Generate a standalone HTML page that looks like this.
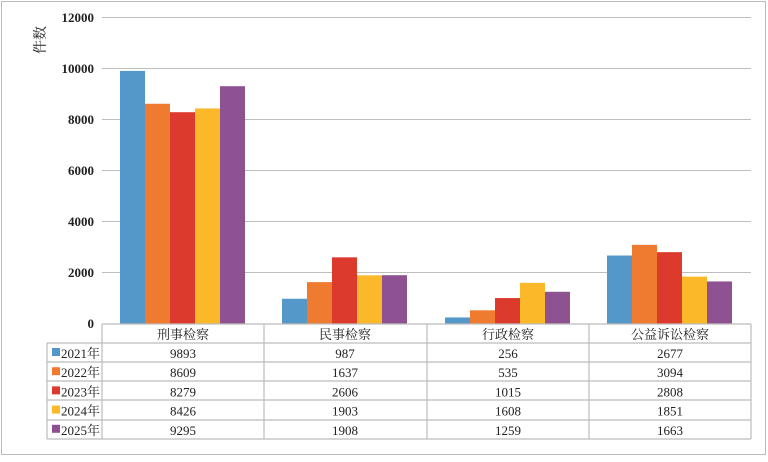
<!DOCTYPE html>
<html><head><meta charset="utf-8"><style>
body{margin:0;background:#fff}
svg text{font-family:"Liberation Serif","Noto Serif CJK SC",serif;fill:#222}
</style></head><body>
<svg width="768" height="457" xmlns="http://www.w3.org/2000/svg">
<rect x="1.5" y="1.5" width="764" height="453" fill="#fff" stroke="#bbb"/>
<g stroke="#bdbdbd" stroke-width="1">
<line x1="102" y1="17.5" x2="751" y2="17.5"/>
<line x1="102" y1="68.5" x2="751" y2="68.5"/>
<line x1="102" y1="119.5" x2="751" y2="119.5"/>
<line x1="102" y1="170.5" x2="751" y2="170.5"/>
<line x1="102" y1="221.5" x2="751" y2="221.5"/>
<line x1="102" y1="272.5" x2="751" y2="272.5"/>
</g>
<g font-size="13" text-anchor="end" font-weight="bold">
<text x="94" y="22">12000</text><text x="94" y="73">10000</text><text x="94" y="124">8000</text>
<text x="94" y="175">6000</text><text x="94" y="226">4000</text><text x="94" y="277">2000</text><text x="94" y="328">0</text>
</g>
<text font-size="14" transform="translate(45,40) rotate(-90)" text-anchor="middle">件数</text>
<g id="bars"></g>
<g stroke="#bcbcbc" stroke-width="1.2" fill="none">
<line x1="102" y1="324" x2="751" y2="324"/>
<line x1="47" y1="343" x2="751" y2="343"/>
<line x1="47" y1="362" x2="751" y2="362"/>
<line x1="47" y1="381" x2="751" y2="381"/>
<line x1="47" y1="400" x2="751" y2="400"/>
<line x1="47" y1="420" x2="751" y2="420"/>
<line x1="47" y1="439" x2="751" y2="439"/>
<line x1="47" y1="343" x2="47" y2="439"/>
<line x1="102" y1="324" x2="102" y2="439"/>
<line x1="264" y1="324" x2="264" y2="439"/>
<line x1="427" y1="324" x2="427" y2="439"/>
<line x1="589" y1="324" x2="589" y2="439"/>
<line x1="751" y1="324" x2="751" y2="439"/>
</g>
<g font-size="13" text-anchor="middle">
<text x="183" y="339">刑事检察</text><text x="345" y="339">民事检察</text><text x="508" y="339">行政检察</text><text x="670" y="339">公益诉讼检察</text>
</g>
<g id="tbl" font-size="13"></g>
<script>
var d=[[9893,987,256,2677],[8609,1637,535,3094],[8279,2606,1015,2808],[8426,1903,1608,1851],[9295,1908,1259,1663]];
var c=["#5398c9","#ef7b31","#dc3a2d","#fbb828","#8e5293"];
var ns="http://www.w3.org/2000/svg",b=document.getElementById("bars"),t=document.getElementById("tbl");
var gx=[102,264,427,589],cx=[183,345,508,670];
for(var s=0;s<5;s++){for(var g=0;g<4;g++){var h=d[s][g]*307/12000;var r=document.createElementNS(ns,"rect");
r.setAttribute("x",gx[g]+18+s*25);r.setAttribute("y",324-h);r.setAttribute("width",25);r.setAttribute("height",h);r.setAttribute("fill",c[s]);b.appendChild(r);
var tx=document.createElementNS(ns,"text");tx.setAttribute("x",cx[g]);tx.setAttribute("y",358+s*19.2);tx.setAttribute("text-anchor","middle");tx.textContent=d[s][g];t.appendChild(tx);}
var q=document.createElementNS(ns,"rect");q.setAttribute("x",52);q.setAttribute("y",348+s*19.2);q.setAttribute("width",8);q.setAttribute("height",8);q.setAttribute("fill",c[s]);t.appendChild(q);
var l=document.createElementNS(ns,"text");l.setAttribute("x",61);l.setAttribute("y",358+s*19.2);l.textContent=(2021+s)+"年";t.appendChild(l);}
</script>
</svg>
</body></html>
